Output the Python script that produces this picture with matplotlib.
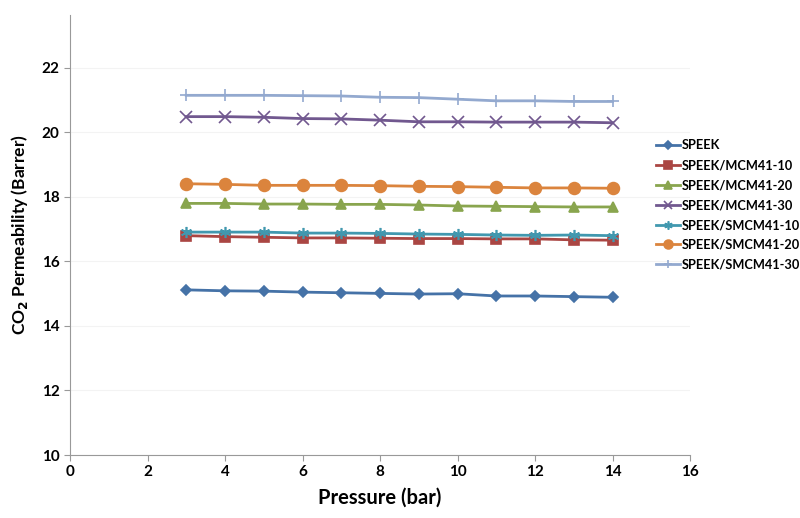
import numpy as np
import matplotlib.pyplot as plt

plt.rcParams['font.family'] = ['Lato', 'DejaVu Sans']

# pressure (bar)
pressure = [3, 4, 5, 6, 7, 8, 9, 10, 11, 12, 13, 14]

# CO2 permeability (Barrer) per membrane
speek = [15.12, 15.09, 15.08, 15.05, 15.03, 15.01, 14.99, 15.00, 14.93, 14.93, 14.91, 14.89]
mcm10 = [16.80, 16.77, 16.75, 16.73, 16.73, 16.72, 16.71, 16.71, 16.70, 16.70, 16.67, 16.66]
mcm20 = [17.80, 17.80, 17.78, 17.78, 17.77, 17.77, 17.75, 17.72, 17.71, 17.70, 17.69, 17.69]
mcm30 = [20.49, 20.49, 20.47, 20.43, 20.42, 20.38, 20.33, 20.33, 20.32, 20.32, 20.32, 20.30]
smcm10 = [16.91, 16.91, 16.91, 16.88, 16.88, 16.87, 16.85, 16.84, 16.82, 16.81, 16.82, 16.80]
smcm20 = [18.41, 18.39, 18.36, 18.36, 18.36, 18.35, 18.33, 18.32, 18.30, 18.28, 18.28, 18.27]
smcm30 = [21.15, 21.15, 21.15, 21.14, 21.13, 21.09, 21.08, 21.03, 20.98, 20.98, 20.96, 20.96]

labels = ['SPEEK', 'SPEEK/MCM41-10', 'SPEEK/MCM41-20', 'SPEEK/MCM41-30',
          'SPEEK/SMCM41-10', 'SPEEK/SMCM41-20', 'SPEEK/SMCM41-30']
series = [speek, mcm10, mcm20, mcm30, smcm10, smcm20, smcm30]
colors = ['#4572A7', '#AA4643', '#89A54E', '#71588F', '#4198AF', '#DB843D', '#93A9CF']
markers = ['D', 's', '^', 'x', (6, 2, 0), 'o', '+']
msizes = [5.5, 7, 7, 8, 8, 8.5, 8]

fig = plt.figure(figsize=(8, 5.18), dpi=100)
ax = fig.add_axes([0.0875, 0.1216, 0.775, 0.8494])

for y, lab, c, m, ms in zip(series, labels, colors, markers, msizes):
    ax.plot(pressure, y, color=c, marker=m, markersize=ms, linewidth=2,
            markeredgewidth=1.2, label=lab)

ax.set_xlim(0, 16)
ax.set_ylim(10, 23.64)
ax.set_xticks(np.arange(0, 17, 2))
ax.set_yticks(np.arange(10, 23, 2))
ax.grid(axis='y', color='#f3f3f3', linewidth=0.8)
ax.set_axisbelow(True)

for s in ['top', 'right']:
    ax.spines[s].set_visible(False)
for s in ['left', 'bottom']:
    ax.spines[s].set_color('#999999')
ax.tick_params(colors='#999999', labelcolor='black', length=4, direction='out')
for t in ax.get_xticklabels() + ax.get_yticklabels():
    t.set_fontweight('bold')
    t.set_fontsize(11)

ax.set_xlabel('Pressure (bar)', fontsize=14.5, fontweight='bold', labelpad=6)
ax.set_ylabel('CO$_\\mathbf{2}$ Permeability (Barrer)', fontsize=12.5, fontweight='bold', labelpad=8)

# legend sits right of the plot, as in the original sheet
leg = fig.legend(loc='upper left', bbox_to_anchor=(0.82, 0.731), frameon=False,
                 prop={'size': 9.2, 'weight': 'bold'},
                 handlelength=1.9, labelspacing=0.62, handletextpad=0.15,
                 borderaxespad=0, borderpad=0, markerscale=0.75)

fig.savefig('out.png', dpi=100)
